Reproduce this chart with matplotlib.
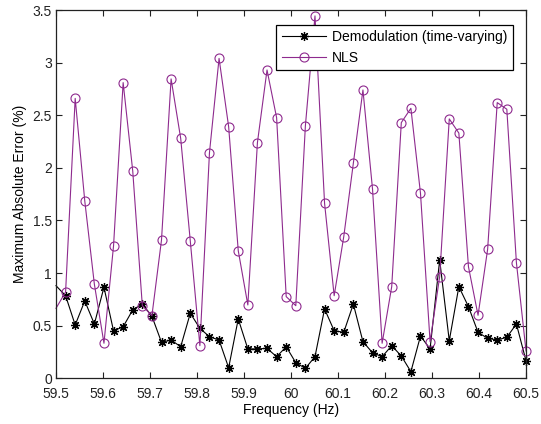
import numpy as np
import matplotlib
matplotlib.use('Agg')
import matplotlib.pyplot as plt

# frequency grid (Hz): 50 points from 59.5 to 60.5
freq = 59.5 + np.arange(0, 50) / 49

demod = [0.88, 0.785, 0.507, 0.735, 0.516, 0.865, 0.45, 0.49, 0.65, 0.706, 0.59,
         0.342, 0.364, 0.30, 0.618, 0.475, 0.395, 0.364, 0.10, 0.564, 0.279,
         0.279, 0.285, 0.205, 0.30, 0.148, 0.095, 0.205, 0.659, 0.452, 0.437,
         0.706, 0.348, 0.243, 0.205, 0.31, 0.212, 0.063, 0.402, 0.279, 1.125,
         0.357, 0.871, 0.681, 0.437, 0.38, 0.364, 0.39, 0.516, 0.167]

nls = [0.665, 0.82, 2.66, 1.685, 0.894, 0.333, 1.26, 2.81, 1.97, 0.69, 0.595,
       1.315, 2.845, 2.28, 1.305, 0.31, 2.145, 3.04, 2.39, 1.213, 0.697,
       2.24, 2.93, 2.477, 0.776, 0.69, 2.40, 3.444, 1.663, 0.785, 1.346,
       2.044, 2.74, 1.797, 0.333, 0.871, 2.43, 2.566, 1.758, 0.348, 0.966,
       2.465, 2.33, 1.061, 0.599, 1.226, 2.62, 2.557, 1.099, 0.26]

xticks = np.round(np.arange(59.5, 60.51, 0.1), 1)
xticklabels = ['59.5', '59.6', '59.7', '59.8', '59.9', '60', '60.1', '60.2', '60.3', '60.4', '60.5']
yticks = np.arange(0, 3.51, 0.5)
yticklabels = ['0', '0.5', '1', '1.5', '2', '2.5', '3', '3.5']

plt.rcParams['font.family'] = ['Liberation Sans', 'DejaVu Sans']
plt.rcParams['font.size'] = 10

fig = plt.figure(figsize=(5.41, 4.24), dpi=100)
ax = fig.add_axes([56 / 541, 1 - 378.3 / 424, 470 / 541, 368.3 / 424])

purple = '#8e2a8e'
# the point on the left edge has no visible marker in the original
ax.plot(freq, demod, color='black', lw=0.8, marker=(8, 2, 0), ms=6.5,
        mew=0.9, markevery=slice(1, None), clip_on=False,
        label='Demodulation (time-varying)')
ax.plot(freq, nls, color=purple, lw=0.8, marker='o', ms=6.5, mfc='none',
        mec=purple, mew=0.8, markevery=slice(1, None), clip_on=False, label='NLS')

ax.set_xlim(59.5, 60.5)
ax.set_ylim(0, 3.5)
ax.set_xticks(xticks)
ax.set_xticklabels(xticklabels)
ax.set_yticks(yticks)
ax.set_yticklabels(yticklabels)
ax.tick_params(direction='in', top=True, right=True, length=4, width=0.8,
               labelsize=10, colors='#222222')
ax.tick_params(axis='x', pad=6)
ax.tick_params(axis='y', pad=3)
for s in ax.spines.values():
    s.set_linewidth(0.9)
    s.set_color('#222222')

ax.set_xlabel('Frequency (Hz)', fontsize=10, labelpad=2)
ax.set_ylabel('Maximum Absolute Error (%)', fontsize=10, labelpad=4)

leg = ax.legend(loc='upper right', bbox_to_anchor=(0.972, 0.96), borderaxespad=0,
                fancybox=False, framealpha=1, edgecolor='black', fontsize=10,
                handlelength=3.2, labelspacing=0.45, borderpad=0.4, handletextpad=0.4)
leg.get_frame().set_linewidth(0.9)

fig.savefig('out.png', dpi=100)
